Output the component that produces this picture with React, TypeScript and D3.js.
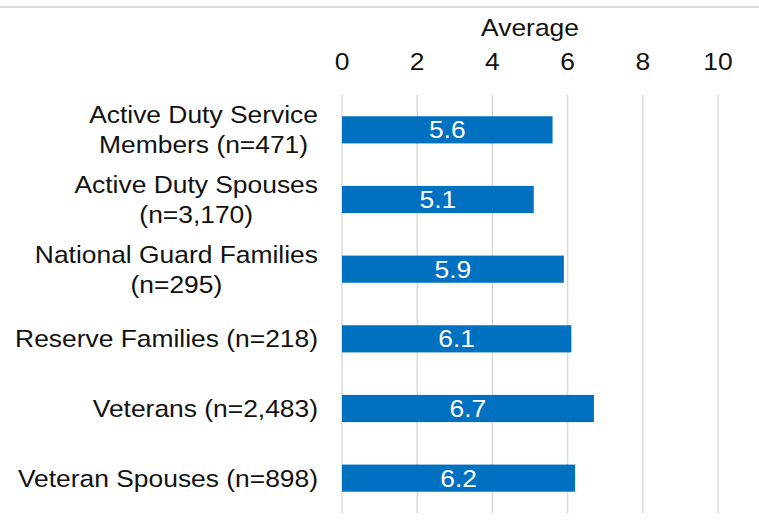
import React from "react";
import * as d3 from "d3";

const categories: string[][] = [
  ["Active Duty Service", "Members (n=471)"],
  ["Active Duty Spouses", "(n=3,170)"],
  ["National Guard Families", "(n=295)"],
  ["Reserve Families (n=218)"],
  ["Veterans (n=2,483)"],
  ["Veteran Spouses (n=898)"],
];
const values: number[] = [5.6, 5.1, 5.9, 6.1, 6.7, 6.2];
const ticks: number[] = [0, 2, 4, 6, 8, 10];
const axisTitle = "Average";

const W = 759;
const H = 523;
const FONT = "'Liberation Sans', Arial, sans-serif";
const FS = 24;
const SX = 1.1;
const TEXT = "#111";

let ctx: CanvasRenderingContext2D | null = null;
function measure(s: string): number {
  if (!ctx) ctx = document.createElement("canvas").getContext("2d");
  if (!ctx) return s.length * FS * 0.5;
  ctx.font = `${FS}px ${FONT}`;
  return ctx.measureText(s).width;
}

export default function App() {
  const x = d3.scaleLinear().domain([0, 10]).range([342, 718]);
  const y = d3
    .scaleBand<number>()
    .domain(d3.range(categories.length))
    .range([95, 513])
    .paddingInner(0.61)
    .paddingOuter(0.305);
  const band = d3.scaleBand<number>().domain(d3.range(categories.length)).range([95, 513]);
  const labelRight = 318;
  const lineH = 30;

  return (
    <svg
      width={W}
      height={H}
      style={{ position: "absolute", left: 0, top: 0, background: "#fff" }}
      fontFamily={FONT}
    >
      <line x1={0} x2={W} y1={7} y2={7} stroke="#d9d9d9" strokeWidth={2} />
      <g transform={`translate(${(x(0) + x(10)) / 2},36) scale(${SX},1)`}>
        <text textAnchor="middle" fontSize={FS} fill={TEXT}>
          {axisTitle}
        </text>
      </g>
      {ticks.map((t) => (
        <g key={"t" + t}>
          <line x1={x(t)} x2={x(t)} y1={95} y2={513} stroke="#d9d9d9" strokeWidth={1.5} />
          <g transform={`translate(${x(t)},70) scale(${SX},1)`}>
            <text textAnchor="middle" fontSize={FS} fill={TEXT}>
              {t}
            </text>
          </g>
        </g>
      ))}
      {values.map((v, i) => (
        <g key={"b" + i}>
          <rect
            x={x(0)}
            y={y(i)!}
            width={x(v) - x(0)}
            height={y.bandwidth()}
            fill="#0070c0"
          />
          <g
            transform={`translate(${(x(0) + x(v)) / 2},${y(i)! + y.bandwidth() / 2 + 8.5}) scale(${SX},1)`}
          >
            <text textAnchor="middle" fontSize={FS} fill="#fff">
              {v.toFixed(1)}
            </text>
          </g>
        </g>
      ))}
      {categories.map((lines, i) => {
        const c = band(i)! + band.bandwidth() / 2;
        const maxW = Math.max(...lines.map(measure));
        const n = lines.length;
        return (
          <g key={"c" + i} transform={`translate(${labelRight},0) scale(${SX},1)`}>
            {lines.map((l, j) => (
              <text
                key={j}
                x={n > 1 ? -maxW / 2 : 0}
                y={c + (j - (n - 1) / 2) * lineH + 8.5}
                textAnchor={n > 1 ? "middle" : "end"}
                fontSize={FS}
                fill={TEXT}
              >
                {l}
              </text>
            ))}
          </g>
        );
      })}
    </svg>
  );
}
